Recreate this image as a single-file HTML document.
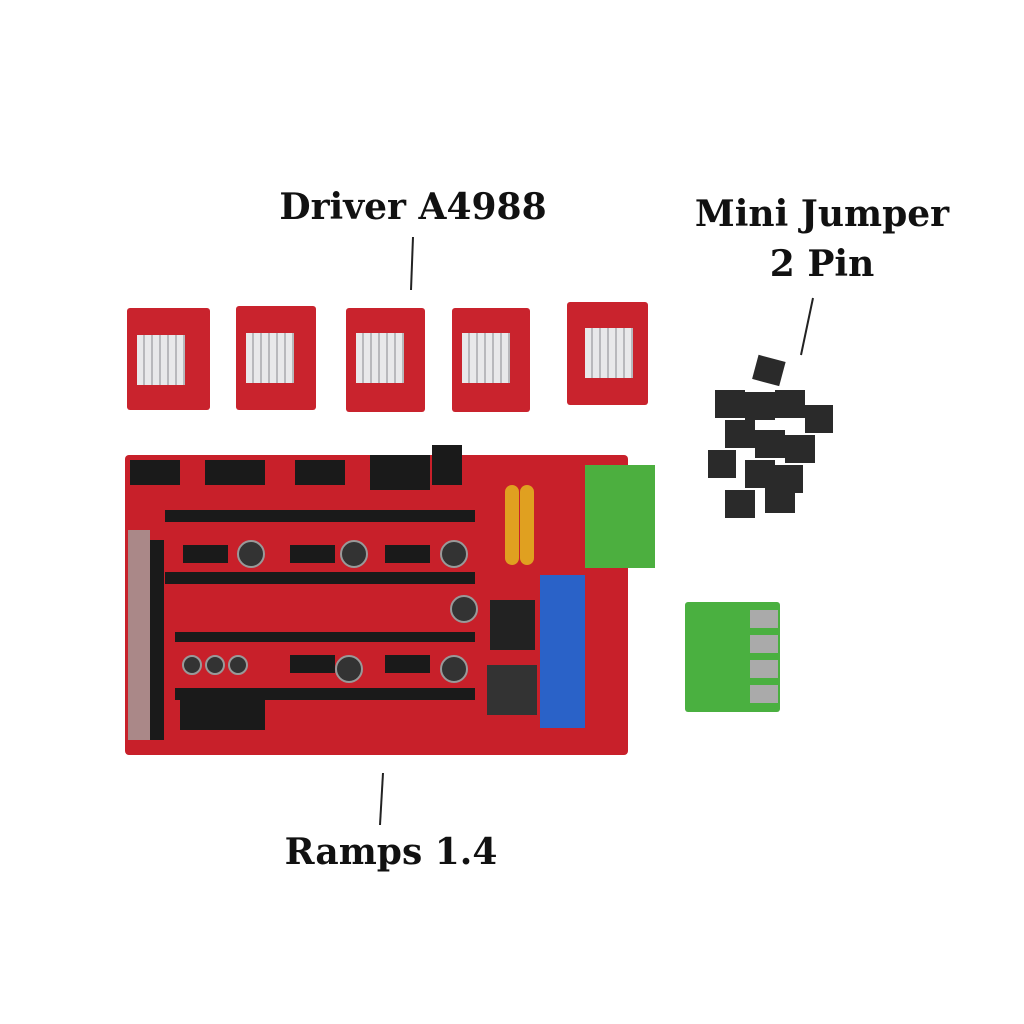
<!DOCTYPE html>
<html><head><meta charset="utf-8"><style>
body{margin:0;width:1024px;height:1024px;background:#fff;position:relative;overflow:hidden;font-family:"DejaVu Serif","Liberation Serif",serif}
.l{position:absolute;font-weight:bold;color:#111;font-size:36px;white-space:nowrap;transform:translateX(-50%)}
.a{position:absolute}
.drv{position:absolute;background:#c9232d;border-radius:3px}
.hs{position:absolute;background:repeating-linear-gradient(90deg,#e8e8ea 0 6px,#b8b8bc 6px 8px)}
.hdr{position:absolute;background:#1a1a1a}
.cap{position:absolute;width:24px;height:24px;border-radius:50%;background:#333;border:2px solid #999}
</style></head><body>
<div class="l" style="left:413px;top:186px">Driver A4988</div>
<div class="l" style="left:822px;top:193px">Mini Jumper</div>
<div class="l" style="left:822px;top:243px">2 Pin</div>
<div class="l" style="left:391px;top:831px">Ramps 1.4</div>
<svg class="a" style="left:0;top:0" width="1024" height="1024">
<line x1="413" y1="237" x2="411" y2="290" stroke="#222" stroke-width="2"/>
<line x1="813" y1="298" x2="801" y2="355" stroke="#222" stroke-width="2"/>
<line x1="383" y1="773" x2="380" y2="825" stroke="#222" stroke-width="2"/>
</svg>

<div class="drv" style="left:127px;top:308px;width:83px;height:102px"></div>
<div class="hs" style="left:137px;top:335px;width:48px;height:50px"></div>
<div class="drv" style="left:236px;top:306px;width:80px;height:104px"></div>
<div class="hs" style="left:246px;top:333px;width:48px;height:50px"></div>
<div class="drv" style="left:346px;top:308px;width:79px;height:104px"></div>
<div class="hs" style="left:356px;top:333px;width:48px;height:50px"></div>
<div class="drv" style="left:452px;top:308px;width:78px;height:104px"></div>
<div class="hs" style="left:462px;top:333px;width:48px;height:50px"></div>
<div class="drv" style="left:567px;top:302px;width:81px;height:103px"></div>
<div class="hs" style="left:585px;top:328px;width:48px;height:50px"></div>

<div class="a" style="left:125px;top:455px;width:503px;height:300px;background:#c8202a;border-radius:4px"></div>
<div class="hdr" style="left:130px;top:460px;width:50px;height:25px"></div>
<div class="hdr" style="left:205px;top:460px;width:60px;height:25px"></div>
<div class="hdr" style="left:295px;top:460px;width:50px;height:25px"></div>
<div class="hdr" style="left:370px;top:455px;width:60px;height:35px"></div>
<div class="hdr" style="left:432px;top:445px;width:30px;height:40px"></div>
<div class="hdr" style="left:165px;top:510px;width:310px;height:12px"></div>
<div class="hdr" style="left:165px;top:572px;width:310px;height:12px"></div>
<div class="hdr" style="left:175px;top:632px;width:300px;height:10px"></div>
<div class="hdr" style="left:175px;top:688px;width:300px;height:12px"></div>
<div class="hdr" style="left:180px;top:700px;width:85px;height:30px"></div>
<div class="hdr" style="left:128px;top:530px;width:22px;height:210px;background:#a88"></div>
<div class="hdr" style="left:150px;top:540px;width:14px;height:200px"></div>
<div class="hdr" style="left:183px;top:545px;width:45px;height:18px"></div>
<div class="hdr" style="left:290px;top:545px;width:45px;height:18px"></div>
<div class="hdr" style="left:385px;top:545px;width:45px;height:18px"></div>
<div class="hdr" style="left:290px;top:655px;width:45px;height:18px"></div>
<div class="hdr" style="left:385px;top:655px;width:45px;height:18px"></div>
<div class="cap" style="left:237px;top:540px"></div>
<div class="cap" style="left:340px;top:540px"></div>
<div class="cap" style="left:440px;top:540px"></div>
<div class="cap" style="left:450px;top:595px"></div>
<div class="cap" style="left:335px;top:655px"></div>
<div class="cap" style="left:440px;top:655px"></div>
<div class="cap" style="left:182px;top:655px;width:16px;height:16px"></div>
<div class="cap" style="left:205px;top:655px;width:16px;height:16px"></div>
<div class="cap" style="left:228px;top:655px;width:16px;height:16px"></div>
<div class="a" style="left:505px;top:485px;width:14px;height:80px;background:#e0a020;border-radius:7px"></div>
<div class="a" style="left:520px;top:485px;width:14px;height:80px;background:#e0a020;border-radius:7px"></div>
<div class="a" style="left:490px;top:600px;width:45px;height:50px;background:#222"></div>
<div class="a" style="left:487px;top:665px;width:50px;height:50px;background:#333"></div>
<div class="a" style="left:585px;top:465px;width:70px;height:103px;background:#4caf3f"></div>
<div class="a" style="left:540px;top:575px;width:45px;height:153px;background:#2a62c8"></div>
<div class="a" style="left:685px;top:602px;width:95px;height:110px;background:#4ab040;border-radius:3px"></div>
<div class="a" style="left:750px;top:610px;width:28px;height:98px;background:repeating-linear-gradient(180deg,#aaa 0 18px,#4ab040 18px 25px)"></div>

<svg class="a" style="left:700px;top:350px" width="140" height="175">
<g fill="#2a2a2a">
<rect x="55" y="8" width="28" height="25" transform="rotate(15 69 20)"/>
<rect x="15" y="40" width="30" height="28"/>
<rect x="45" y="42" width="30" height="28"/>
<rect x="75" y="40" width="30" height="28"/>
<rect x="105" y="55" width="28" height="28"/>
<rect x="25" y="70" width="30" height="28"/>
<rect x="55" y="80" width="30" height="28"/>
<rect x="85" y="85" width="30" height="28"/>
<rect x="8" y="100" width="28" height="28"/>
<rect x="45" y="110" width="30" height="28"/>
<rect x="75" y="115" width="28" height="28"/>
<rect x="25" y="140" width="30" height="28"/>
<rect x="65" y="135" width="30" height="28"/>
</g></svg>
</body></html>
